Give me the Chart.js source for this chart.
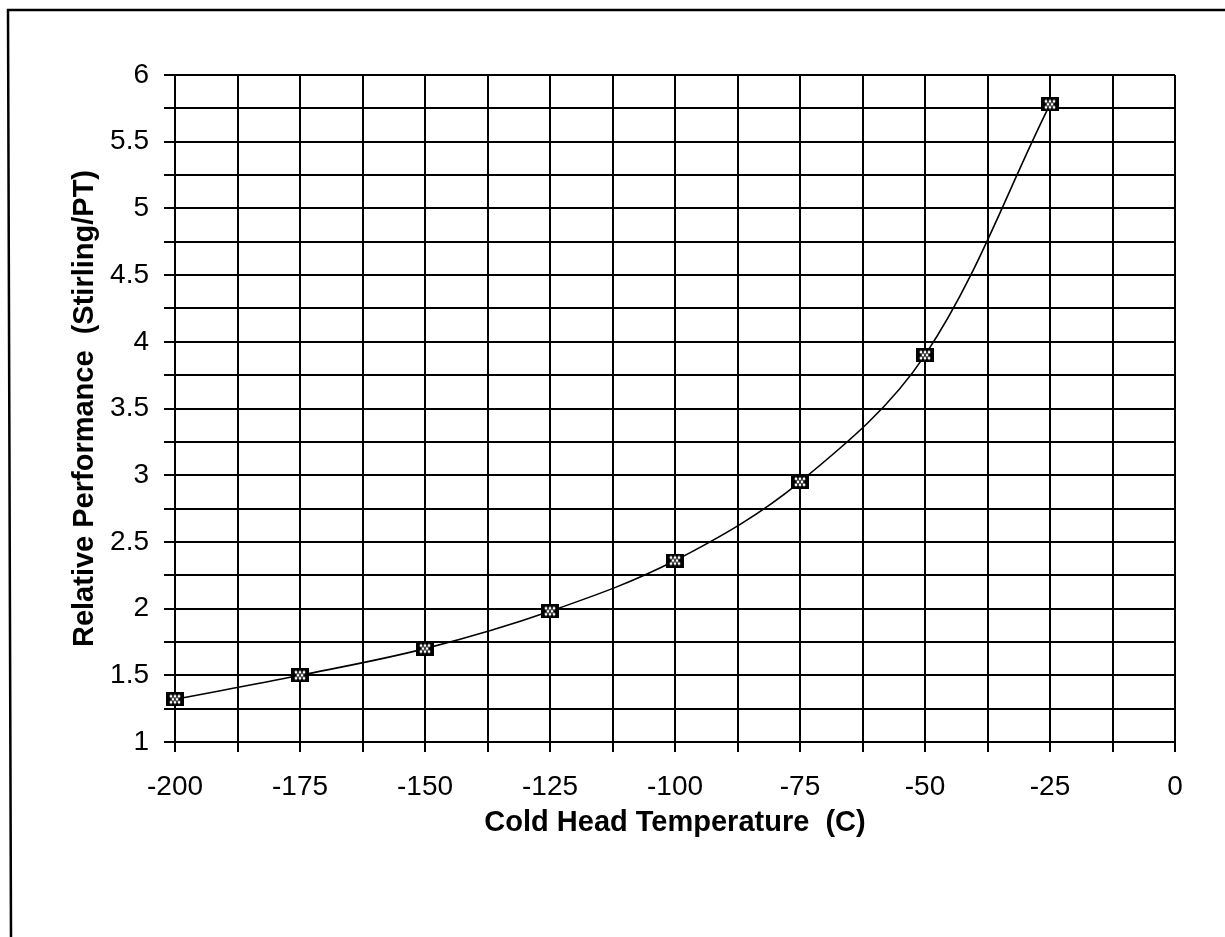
<!DOCTYPE html>
<html>
<head>
<meta charset="utf-8">
<script src="https://cdn.jsdelivr.net/npm/chart.js@4.4.1/dist/chart.umd.min.js"></script>
<style>
  body { margin: 0; background: #fff; }
  #wrap { width: 1225px; height: 937px; }
</style>
</head>
<body>
<div id="wrap"><canvas id="chart" width="1225" height="937"></canvas></div>
<script>
// values
const temps = [-200, -175, -150, -125, -100, -75, -50, -25];
const perf = [1.32, 1.50, 1.70, 1.98, 2.36, 2.95, 3.90, 5.78];

const xTitle = 'Cold Head Temperature  (C)';
const yTitle = 'Relative Performance  (Stirling/PT)';

// little hatched square marker like the old Excel one
function makeMarker() {
    const c = document.createElement('canvas');
    c.width = 18; c.height = 14;
    const g = c.getContext('2d');
    g.fillStyle = '#000';
    g.fillRect(0, 0, 18, 14);
    g.fillStyle = '#fff';
    const dots = [[5, 4], [9, 4], [13, 4], [5, 10], [9, 10], [13, 10], [7, 7], [11, 7]];
    dots.forEach(d => { g.beginPath(); g.arc(d[0], d[1], 1.4, 0, Math.PI * 2); g.fill(); });
    return c;
}

// frame around the page (only top and left edges survived the scan)
const frame = {
    id: 'frame',
    beforeDraw(chart) {
        const g = chart.ctx;
        g.save();
        g.strokeStyle = '#000';
        g.lineWidth = 2.5;
        g.beginPath();
        g.moveTo(1225, 10);
        g.lineTo(8, 10);
        g.lineTo(11, 937);
        g.stroke();
        g.restore();
    }
};

const font = { family: "'Liberation Sans', Arial, sans-serif", size: 28 };
const titleFont = { family: "'Liberation Sans', Arial, sans-serif", size: 29, weight: 'bold' };

var ctx = document.getElementById('chart').getContext('2d');
new Chart(ctx, {
    type: 'line',
    data: {
        labels: temps,
        datasets: [{
            data: temps.map((t, i) => ({ x: t, y: perf[i] })),
            borderColor: '#000',
            borderWidth: 1.6,
            tension: 0.35,
            pointStyle: makeMarker(),
            clip: false
        }]
    },
    options: {
        responsive: false,
        animation: false,
        layout: { padding: { left: 10, right: 50, top: 75, bottom: 0 } },
        plugins: { legend: { display: false }, tooltip: { enabled: false } },
        scales: {
            x: {
                type: 'linear',
                min: -200,
                max: 0,
                afterFit(s) { s.height = 195; },
                grid: { color: '#000', lineWidth: 2, tickLength: 10 },
                border: { color: '#000', width: 2 },
                ticks: {
                    stepSize: 12.5,
                    autoSkip: false,
                    maxRotation: 0,
                    color: '#000',
                    font: font,
                    padding: 18,
                    callback: v => (v % 25 === 0 ? String(v) : '')
                },
                title: { display: true, text: xTitle, color: '#000', font: titleFont, padding: { top: 0, bottom: 97 } }
            },
            y: {
                min: 1,
                max: 6,
                afterFit(s) { s.width = 165; },
                grid: { color: '#000', lineWidth: 2, tickLength: 11 },
                border: { color: '#000', width: 2 },
                ticks: {
                    stepSize: 0.25,
                    autoSkip: false,
                    color: '#000',
                    font: font,
                    padding: 15,
                    callback: v => (v % 0.5 === 0 ? String(v) : '')
                },
                title: { display: true, text: yTitle, color: '#000', font: titleFont, padding: { top: 58, bottom: 0 } }
            }
        }
    },
    plugins: [frame]
});
</script>
</body>
</html>
